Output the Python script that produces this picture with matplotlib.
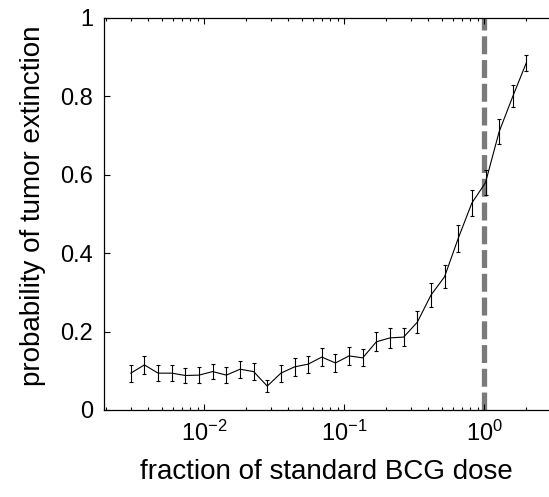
import matplotlib
matplotlib.use("Agg")
import matplotlib.pyplot as plt
from matplotlib.ticker import LogLocator, FixedLocator

# dose fractions (log-spaced samples) and simulated extinction probability
dose = [0.0030, 0.00375, 0.00470, 0.00588, 0.00736, 0.00921, 0.01153, 0.01443,
        0.01806, 0.02260, 0.02828, 0.03539, 0.04430, 0.05544, 0.06938, 0.08683,
        0.1087, 0.1360, 0.1702, 0.2130, 0.2666, 0.3336, 0.4175, 0.5225,
        0.6540, 0.8184, 1.0243, 1.2819, 1.6042, 2.0]
p_extinct = [0.094, 0.115, 0.094, 0.094, 0.088, 0.089, 0.098, 0.089, 0.104, 0.098,
             0.061, 0.094, 0.110, 0.117, 0.135, 0.120, 0.138, 0.133, 0.174, 0.184,
             0.186, 0.224, 0.293, 0.340, 0.438, 0.528, 0.580, 0.710, 0.800, 0.885]
p_err = [0.022, 0.022, 0.020, 0.020, 0.020, 0.020, 0.020, 0.020, 0.022, 0.022,
         0.015, 0.022, 0.022, 0.022, 0.022, 0.022, 0.022, 0.022, 0.024, 0.025,
         0.024, 0.028, 0.030, 0.030, 0.034, 0.033, 0.032, 0.032, 0.028, 0.020]
standard_dose = 1.0

plt.rcParams['font.family'] = ['Liberation Sans', 'DejaVu Sans']
plt.rcParams['mathtext.fontset'] = 'custom'
plt.rcParams['mathtext.rm'] = 'Liberation Sans'
plt.rcParams['mathtext.it'] = 'Liberation Sans'
plt.rcParams['mathtext.bf'] = 'Liberation Sans'

fig = plt.figure(figsize=(5.49, 4.97), dpi=100)
# the right side of the frame runs past the picture edge (cropped figure)
ax = fig.add_axes([104 / 549, 87 / 497, 489 / 549, 392 / 497])

# standard dose marker
ax.plot([standard_dose, standard_dose], [0, 1], color='#7a7a7a', linewidth=3.8,
        dashes=(3.4, 1.1), solid_capstyle='butt', zorder=1)

# simulation results with error bars
ax.errorbar(dose, p_extinct, yerr=p_err, color='black', linewidth=0.8,
            elinewidth=0.8, capsize=1.6, capthick=0.8, zorder=2)

ax.set_xscale('log')
ax.set_xlim(0.00193, 6.0)
ax.set_ylim(0, 1)
ax.yaxis.set_major_locator(FixedLocator([0, 0.2, 0.4, 0.6, 0.8, 1]))
ax.set_yticklabels(['0', '0.2', '0.4', '0.6', '0.8', '1'])
ax.xaxis.set_major_locator(LogLocator(base=10, numticks=10))
ax.xaxis.set_minor_locator(LogLocator(base=10, subs=range(2, 10), numticks=20))

ax.tick_params(which='both', direction='in', top=True, right=True,
               labelsize=17, width=0.8, pad=8)
ax.tick_params(which='major', length=4)
ax.tick_params(which='minor', length=2.5)
for s in ax.spines.values():
    s.set_linewidth(0.9)

ax.set_xlabel('fraction of standard BCG dose', fontsize=20, labelpad=9)
ax.set_ylabel('probability of tumor extinction', fontsize=20, labelpad=10)
# centre labels on the visible part of the frame
ax.xaxis.label.set_x(0.454)
ax.yaxis.label.set_y(0.52)

plt.savefig('out.png', dpi=100)
